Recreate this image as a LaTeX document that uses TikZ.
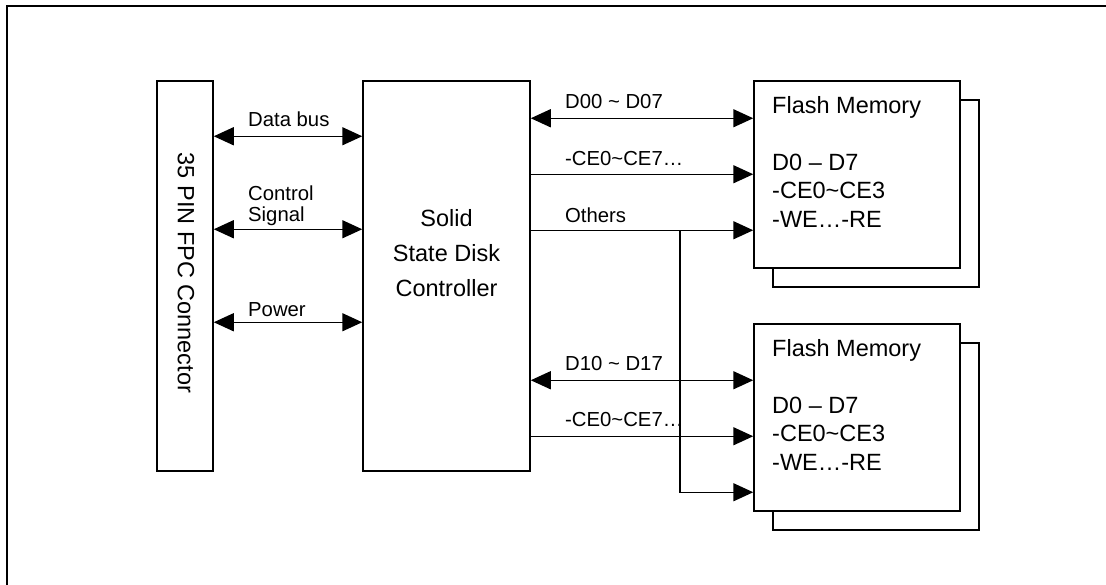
\documentclass[tikz,border=0pt]{standalone}
\usepackage{fontspec}
\setmainfont{Liberation Sans}
\usetikzlibrary{arrows.meta,calc}
\newcommand{\tl}{\textasciitilde}
\begin{document}
\begin{tikzpicture}[x=1pt,y=-1pt,
  box/.style={draw,line width=1.5pt,rectangle,inner sep=0pt,fill=white},
  lbl/.style={inner sep=0pt,anchor=base west,font=\fontsize{20.3}{21}\selectfont},
  btxt/.style={inner sep=0pt,anchor=base west,font=\fontsize{23.5}{28}\selectfont},
  conn/.style={line width=1.5pt},
  tip/.style={-{Triangle[length=20pt,width=18pt]}},
  biarrow/.style={{Triangle[length=20pt,width=18pt]}-{Triangle[length=20pt,width=18pt]}}
]
\useasboundingbox (0,0) rectangle (1106,584);
\draw[line width=2pt] (6.5,5.5) rectangle (1300,800);

% main boxes
\node[box,minimum width=56pt,minimum height=390pt] (fpc) at (185,276) {};
\node[rotate=-90,inner sep=0pt,font=\fontsize{23.5}{28}\selectfont] (fpct) at (186,273) {35 PIN FPC Connector};
\node[box,minimum width=167pt,minimum height=390pt] (ctrl) at (446.5,276) {};
\node[align=center,inner sep=0pt,font=\fontsize{23.5}{35}\selectfont] (ctrlt) at (446.5,253) {Solid\\State Disk\\Controller};

% flash memory boxes (back then front)
\node[box,minimum width=206pt,minimum height=187pt] (fl1b) at (876,193.5) {};
\node[box,minimum width=206pt,minimum height=187pt] (fl1) at (857,174.5) {};
\node[box,minimum width=206pt,minimum height=187pt] (fl2b) at (876,436.5) {};
\node[box,minimum width=206pt,minimum height=187pt] (fl2) at (857,417.5) {};

\node[btxt] (f1a) at (772,113) {Flash Memory};
\node[btxt] (f1b) at (772,170) {D0 – D7};
\node[btxt] (f1c) at (772,198.5) {-CE0\tl CE3};
\node[btxt] (f1d) at (772,227) {-WE…-RE};
\node[btxt] (f2a) at (772,356) {Flash Memory};
\node[btxt] (f2b) at (772,413) {D0 – D7};
\node[btxt] (f2c) at (772,441.5) {-CE0\tl CE3};
\node[btxt] (f2d) at (772,470) {-WE…-RE};

% left connectors
\draw[conn,biarrow] ($(fpc.north east)+(0,56)$) -- ($(ctrl.north west)+(0,56)$);
\draw[conn,biarrow] ($(fpc.north east)+(0,149)$) -- ($(ctrl.north west)+(0,149)$);
\draw[conn,biarrow] ($(fpc.north east)+(0,242)$) -- ($(ctrl.north west)+(0,242)$);
\node[lbl] (l1) at (248,126) {Data bus};
\node[lbl,align=left,anchor=south west] (l2) at (248,226) {Control\\Signal};
\node[lbl] (l3) at (248,316) {Power};

% right connectors
\draw[conn,biarrow] ($(ctrl.north east)+(0,38)$) -- ($(fl1.north west)+(0,38)$);
\draw[conn,tip] ($(ctrl.north east)+(0,94)$) -- ($(fl1.north west)+(0,94)$);
\draw[conn,tip] ($(ctrl.north east)+(0,150)$) -- ($(fl1.north west)+(0,150)$);
\coordinate (br) at (680,231);
\draw[conn,tip] (br) |- ($(fl2.north west)+(0,169)$);
\draw[conn,biarrow] ($(ctrl.north east)+(0,300)$) -- ($(fl2.north west)+(0,57)$);
\draw[conn,tip] ($(ctrl.north east)+(0,356)$) -- ($(fl2.north west)+(0,113)$);

\node[lbl] (r1) at (565,108) {D00 \tl{} D07};
\node[lbl] (r2) at (565,165) {-CE0\tl CE7…};
\node[lbl] (r3) at (565,222) {Others};
\node[lbl] (r4) at (565,370) {D10 \tl{} D17};
\node[lbl] (r5) at (565,426) {-CE0\tl CE7…};
\end{tikzpicture}
\end{document}
